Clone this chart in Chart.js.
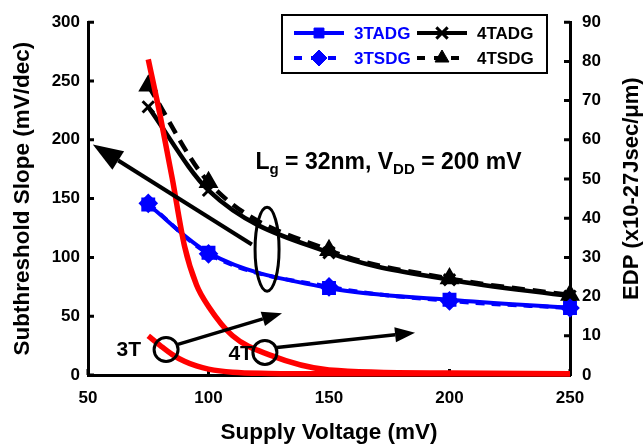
<!DOCTYPE html>
<html>
<head>
<meta charset="utf-8">
<script src="https://cdn.jsdelivr.net/npm/chart.js@4.4.1/dist/chart.umd.min.js"></script>
<style>
html, body { margin: 0; padding: 0; background: #fff; }
#wrap { width: 644px; height: 448px; }
</style>
</head>
<body>
<div id="wrap"><canvas id="ssChart" width="644" height="448"></canvas></div>
<script>
const FONT = "'Liberation Sans', Arial, sans-serif";

// subthreshold slope (mV/dec) vs supply voltage (mV)
const voltages = [75, 100, 150, 200, 250];
const ss3TADG = [145, 104, 74, 64, 57];
const ss3TSDG = [146, 103, 75, 63, 57];
const ss4TADG = [228, 157, 104, 81, 67];
const ss4TSDG = [246, 164, 106, 82, 68];

// EDP (x10-27 Jsec/um), right axis
const edpVoltages = [75, 80, 85, 90, 95, 100, 110, 125, 150, 200, 250];
const edp3T = [10, 7.5, 5.2, 3.5, 2.3, 1.5, 0.7, 0.4, 0.3, 0.3, 0.3];
const edp4T = [80.5, 66, 50, 33, 23, 17.5, 10, 5.2, 1.3, 0.5, 0.3];

const xTicks = [50, 100, 150, 200, 250];
const ssTicks = [0, 50, 100, 150, 200, 250, 300];
const edpTicks = [0, 10, 20, 30, 40, 50, 60, 70, 80, 90];

const BLUE = '#0000ff';
const RED = '#ff0000';
const BLACK = '#000000';

function toPoints(xs, ys) {
    return xs.map((x, i) => ({ x: x, y: ys[i] }));
}

// tick marks point into the plot area
const inwardTicks = {
    id: 'inwardTicks',
    beforeDatasetsDraw(chart) {
        const { ctx, chartArea: a, scales } = chart;
        const len = 6;
        ctx.save();
        ctx.strokeStyle = BLACK;
        ctx.lineWidth = 3;
        ctx.beginPath();
        scales.x.ticks.forEach(t => {
            const px = scales.x.getPixelForValue(t.value);
            ctx.moveTo(px, a.bottom);
            ctx.lineTo(px, a.bottom - len);
        });
        scales.y.ticks.forEach(t => {
            const py = scales.y.getPixelForValue(t.value);
            ctx.moveTo(a.left, py);
            ctx.lineTo(a.left + len, py);
        });
        scales.y2.ticks.forEach(t => {
            const py = scales.y2.getPixelForValue(t.value);
            ctx.moveTo(a.right, py);
            ctx.lineTo(a.right - len, py);
        });
        ctx.stroke();
        ctx.restore();
    }
};

function drawArrow(ctx, x1, y1, x2, y2, width, headLen, headWidth) {
    const ang = Math.atan2(y2 - y1, x2 - x1);
    const bx = x2 - headLen * Math.cos(ang);
    const by = y2 - headLen * Math.sin(ang);
    const hx = headWidth / 2 * Math.sin(ang);
    const hy = headWidth / 2 * Math.cos(ang);
    ctx.lineWidth = width;
    ctx.beginPath();
    ctx.moveTo(x1, y1);
    ctx.lineTo(bx, by);
    ctx.stroke();
    ctx.beginPath();
    ctx.moveTo(x2, y2);
    ctx.lineTo(bx + hx, by - hy);
    ctx.lineTo(bx - hx, by + hy);
    ctx.closePath();
    ctx.fill();
}

function legendRow(ctx, y, x0, color, dash, marker, text) {
    ctx.save();
    ctx.strokeStyle = color;
    ctx.fillStyle = color;
    ctx.lineWidth = 4;
    ctx.setLineDash(dash);
    ctx.beginPath();
    ctx.moveTo(x0, y);
    ctx.lineTo(x0 + 50, y);
    ctx.stroke();
    ctx.setLineDash([]);
    ctx.lineWidth = marker.borderWidth;
    Chart.helpers.drawPoint(ctx, marker, x0 + 25, y);
    ctx.font = 'bold 17px ' + FONT;
    ctx.textBaseline = 'middle';
    ctx.fillText(text, x0 + 60, y + 1);
    ctx.restore();
}

const notes = {
    id: 'notes',
    afterDatasetsDraw(chart) {
        const { ctx, scales } = chart;
        const px = v => scales.x.getPixelForValue(v);
        const py = v => scales.y.getPixelForValue(v);
        ctx.save();
        ctx.strokeStyle = BLACK;
        ctx.fillStyle = BLACK;

        // arrow toward the slope axis
        drawArrow(ctx, px(118), py(111), px(52), py(196), 4, 30, 22);

        // ellipse around the double-gate curves
        ctx.lineWidth = 3;
        ctx.beginPath();
        ctx.ellipse(px(124.3), py(107), 12, 42, 0, 0, Math.PI * 2);
        ctx.stroke();

        // circles on the EDP curves
        ctx.beginPath();
        ctx.arc(px(82.4), py(21.7), 12, 0, Math.PI * 2);
        ctx.stroke();
        ctx.beginPath();
        ctx.arc(px(123.4), py(19.2), 12, 0, Math.PI * 2);
        ctx.stroke();

        drawArrow(ctx, px(87.3), py(26), px(130.5), py(52.6), 3.5, 20, 15);
        drawArrow(ctx, px(128.4), py(23.4), px(185.7), py(36), 3.5, 20, 15);

        ctx.font = 'bold 21px ' + FONT;
        ctx.textBaseline = 'middle';
        ctx.textAlign = 'right';
        ctx.fillText('3T', px(82.4) - 25, py(21.7) + 1);
        ctx.fillText('4T', px(123.4) - 12, py(19.2) + 2);

        // device condition label
        ctx.textAlign = 'left';
        ctx.textBaseline = 'alphabetic';
        let x = px(119.5);
        const yb = py(175);
        const parts = [
            ['L', 23, 0], ['g', 15, 5], [' = 32nm, V', 23, 0], ['DD', 15, 5], [' = 200 mV', 23, 0]
        ];
        parts.forEach(([t, size, drop]) => {
            ctx.font = 'bold ' + size + 'px ' + FONT;
            ctx.fillText(t, x, yb + drop);
            x += ctx.measureText(t).width;
        });

        // legend box
        ctx.lineWidth = 2;
        ctx.fillStyle = '#fff';
        ctx.fillRect(282, 15, 265, 58);
        ctx.strokeRect(282, 15, 265, 58);
        legendRow(ctx, 33, 294, BLUE, [], { pointStyle: 'rect', radius: 7, borderWidth: 1 }, '3TADG');
        legendRow(ctx, 33, 417, BLACK, [], { pointStyle: 'crossRot', radius: 8, borderWidth: 3 }, '4TADG');
        legendRow(ctx, 58, 294, BLUE, [8, 9], { pointStyle: 'rectRot', radius: 8, borderWidth: 1 }, '3TSDG');
        legendRow(ctx, 58, 417, BLACK, [8, 9], { pointStyle: 'triangle', radius: 8, borderWidth: 1 }, '4TSDG');

        // right axis title reads bottom to top
        const a = chart.chartArea;
        ctx.fillStyle = BLACK;
        ctx.font = 'bold 22px ' + FONT;
        ctx.textAlign = 'center';
        ctx.textBaseline = 'middle';
        ctx.translate(632, (a.top + a.bottom) / 2 - 10);
        ctx.rotate(-Math.PI / 2);
        ctx.fillText('EDP (x10-27Jsec/\u03bcm)', 0, 0);
        ctx.restore();
    }
};

const ctx = document.getElementById('ssChart').getContext('2d');
new Chart(ctx, {
    type: 'line',
    data: {
        datasets: [
            {
                label: '4T EDP',
                data: toPoints(edpVoltages, edp4T),
                yAxisID: 'y2',
                borderColor: RED,
                borderWidth: 5.5,
                pointRadius: 0,
                cubicInterpolationMode: 'monotone'
            },
            {
                label: '3T EDP',
                data: toPoints(edpVoltages, edp3T),
                yAxisID: 'y2',
                borderColor: RED,
                borderWidth: 5.5,
                pointRadius: 0,
                cubicInterpolationMode: 'monotone'
            },
            {
                label: '3TSDG',
                data: toPoints(voltages, ss3TSDG),
                borderColor: BLUE,
                borderWidth: 4,
                borderDash: [9, 7],
                pointStyle: 'rectRot',
                pointRadius: 7,
                pointBackgroundColor: BLUE,
                pointBorderColor: BLUE,
                cubicInterpolationMode: 'monotone'
            },
            {
                label: '3TADG',
                data: toPoints(voltages, ss3TADG),
                borderColor: BLUE,
                borderWidth: 4,
                pointStyle: 'rect',
                pointRadius: 7,
                pointBackgroundColor: BLUE,
                pointBorderColor: BLUE,
                cubicInterpolationMode: 'monotone'
            },
            {
                label: '4TSDG',
                data: toPoints(voltages, ss4TSDG),
                borderColor: BLACK,
                borderWidth: 4.5,
                borderDash: [13, 8],
                pointStyle: 'triangle',
                pointRadius: 7,
                pointBackgroundColor: BLACK,
                pointBorderColor: BLACK,
                cubicInterpolationMode: 'monotone'
            },
            {
                label: '4TADG',
                data: toPoints(voltages, ss4TADG),
                borderColor: BLACK,
                borderWidth: 4.5,
                pointStyle: 'crossRot',
                pointRadius: 8,
                pointBorderWidth: 3,
                pointBorderColor: BLACK,
                cubicInterpolationMode: 'monotone'
            }
        ]
    },
    options: {
        responsive: false,
        animation: false,
        events: [],
        clip: false,
        layout: { padding: { top: 16, left: 0, right: 0, bottom: 0 } },
        plugins: {
            legend: { display: false },
            tooltip: { enabled: false }
        },
        scales: {
            x: {
                type: 'linear',
                min: 50,
                max: 250,
                afterBuildTicks: s => { s.ticks = xTicks.map(v => ({ value: v })); },
                afterFit: s => { s.height = 73; },
                grid: { display: false, drawTicks: false },
                border: { display: true, color: BLACK, width: 3 },
                ticks: { color: BLACK, padding: 13, font: { family: FONT, size: 17, weight: 'bold' } },
                title: {
                    display: true,
                    text: 'Supply Voltage (mV)',
                    color: BLACK,
                    padding: { bottom: 2 },
                    font: { family: FONT, size: 22.5, weight: 'bold' }
                }
            },
            y: {
                position: 'left',
                min: 0,
                max: 300,
                afterBuildTicks: s => { s.ticks = ssTicks.map(v => ({ value: v })); },
                afterFit: s => { s.width = 88; },
                grid: { display: false, drawTicks: false },
                border: { display: true, color: BLACK, width: 3 },
                ticks: { color: BLACK, padding: 8, font: { family: FONT, size: 17, weight: 'bold' } },
                title: {
                    display: true,
                    text: 'Subthreshold Slope (mV/dec)',
                    color: BLACK,
                    padding: { top: 9 },
                    font: { family: FONT, size: 22.5, weight: 'bold' }
                }
            },
            y2: {
                position: 'right',
                min: 0,
                max: 90,
                afterBuildTicks: s => { s.ticks = edpTicks.map(v => ({ value: v })); },
                afterFit: s => { s.width = 74; },
                grid: { display: false, drawTicks: false },
                border: { display: true, color: BLACK, width: 3 },
                ticks: { color: BLACK, padding: 12, font: { family: FONT, size: 17, weight: 'bold' } }
            }
        }
    },
    plugins: [inwardTicks, notes]
});
</script>
</body>
</html>
